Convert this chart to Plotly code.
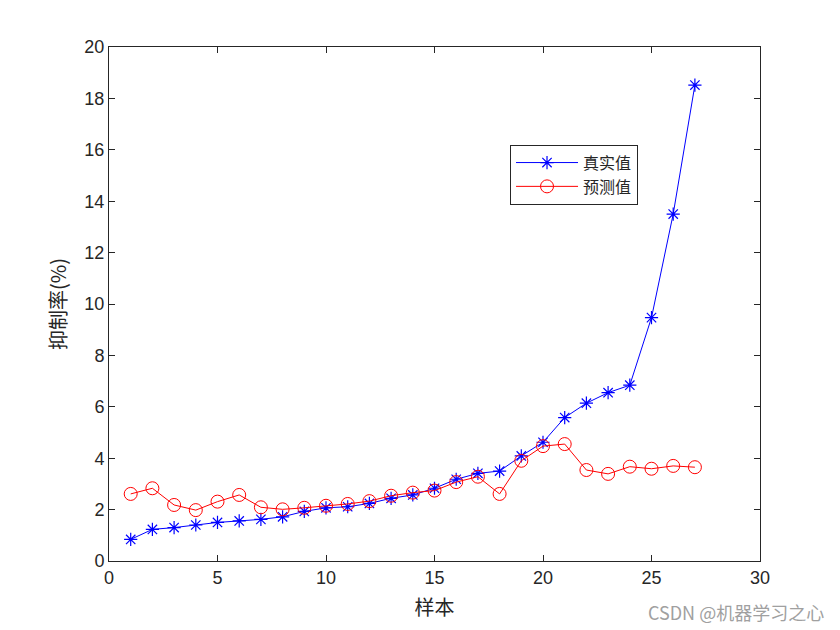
import plotly.graph_objects as go

samples = list(range(1, 28))
true_vals = [0.84, 1.23, 1.30, 1.40, 1.50, 1.56, 1.62, 1.72, 1.93, 2.07,
             2.11, 2.24, 2.44, 2.57, 2.83, 3.18, 3.41, 3.50, 4.09, 4.62,
             5.58, 6.14, 6.55, 6.84, 9.47, 13.50, 18.52]
pred_vals = [2.61, 2.83, 2.18, 1.98, 2.31, 2.57, 2.09, 2.01, 2.07, 2.15,
             2.22, 2.33, 2.54, 2.66, 2.74, 3.07, 3.28, 2.61, 3.90, 4.47,
             4.55, 3.54, 3.39, 3.67, 3.59, 3.70, 3.65]
x_ticks = [0, 5, 10, 15, 20, 25, 30]
y_ticks = [0, 2, 4, 6, 8, 10, 12, 14, 16, 18, 20]

fig = go.Figure()
fig.add_trace(go.Scatter(
    x=samples, y=true_vals, mode="lines+markers", name="真实值",
    line=dict(color="#0000ff", width=1),
    marker=dict(symbol="asterisk-open", size=11, color="#0000ff",
                line=dict(color="#0000ff", width=1.2)),
))
fig.add_trace(go.Scatter(
    x=samples, y=pred_vals, mode="lines+markers", name="预测值",
    line=dict(color="#ff0000", width=1),
    marker=dict(symbol="circle-open", size=13, color="#ff0000",
                line=dict(color="#ff0000", width=1)),
))

axis_common = dict(
    showline=True, linecolor="#262626", linewidth=1, mirror="ticks",
    ticks="inside", ticklen=6, tickcolor="#262626", tickwidth=1,
    showgrid=False, zeroline=False,
    tickfont=dict(family="Liberation Sans, Arial", size=18, color="#262626"),
)

fig.update_layout(
    width=840, height=630,
    paper_bgcolor="white", plot_bgcolor="white",
    margin=dict(l=109, r=80, t=47, b=69),
    showlegend=True,
    legend=dict(
        x=0.616, y=0.81, xanchor="left", yanchor="top",
        bgcolor="white", bordercolor="#262626", borderwidth=1,
        font=dict(family="Noto Sans CJK SC", size=16, color="#262626"),
        itemwidth=62, tracegroupgap=0,
    ),
    xaxis=dict(range=[0, 30], tickvals=x_ticks,
               title=dict(text="样本", font=dict(family="Noto Sans CJK SC", size=20, color="#262626"), standoff=14),
               **axis_common),
    yaxis=dict(range=[0, 20], tickvals=y_ticks,
               title=dict(text="抑制率(%)", font=dict(family="Noto Sans CJK SC", size=20, color="#262626"), standoff=12),
               **axis_common),
    annotations=[dict(
        text="CSDN @机器学习之心", xref="paper", yref="paper",
        x=1.0, y=0, xanchor="right", yanchor="top", yshift=-36, xshift=66,
        showarrow=False,
        font=dict(family="Noto Sans CJK SC", size=18, color="#a0a0a0"),
    )],
)

fig.write_html("out.html")
